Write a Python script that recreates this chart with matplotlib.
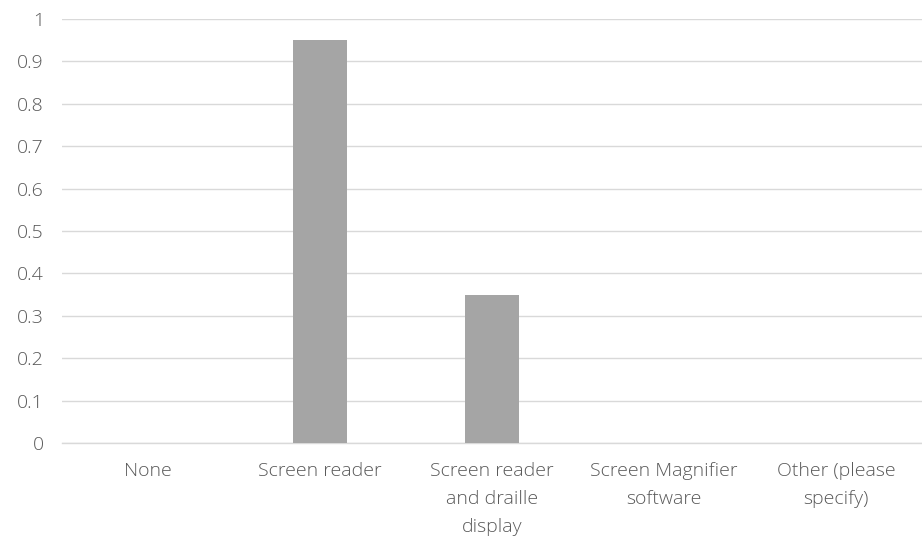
import matplotlib
matplotlib.use("Agg")
import matplotlib.pyplot as plt
import numpy as np

categories = ["None", "Screen reader", "Screen reader\nand draille\ndisplay",
              "Screen Magnifier\nsoftware", "Other (please\nspecify)"]
values = [0, 0.95, 0.35, 0, 0]
yticks = [0, 0.1, 0.2, 0.3, 0.4, 0.5, 0.6, 0.7, 0.8, 0.9, 1]
ytick_labels = ["0", "0.1", "0.2", "0.3", "0.4", "0.5", "0.6", "0.7", "0.8", "0.9", "1"]

plt.rcParams['font.family'] = ['Open Sans', 'DejaVu Sans']
plt.rcParams['font.weight'] = 'light'

fig = plt.figure(figsize=(9.22, 5.44), dpi=100)
ax = fig.add_axes([62/922, 1-443/544, 860/922, (443-19)/544])

x = np.arange(len(categories))
ax.bar(x, values, width=0.315, color="#A5A5A5", zorder=3)

ax.set_xlim(-0.5, len(categories)-0.5)
ax.set_ylim(0, 1)
ax.set_yticks(yticks)
ax.set_yticklabels(ytick_labels, fontweight='light')
ax.set_xticks(x)
ax.set_xticklabels(categories, linespacing=1.7, fontweight='light')

ax.grid(axis="y", color="#D9D9D9", linewidth=1.0, zorder=0)
ax.set_axisbelow(True)
for s in ["top", "right", "left", "bottom"]:
    ax.spines[s].set_visible(False)
ax.axhline(0, color="#D9D9D9", linewidth=1.0, zorder=1, clip_on=False)

ax.tick_params(axis="both", length=0, labelsize=14, colors="#595959")
ax.tick_params(axis="y", pad=13)
ax.tick_params(axis="x", pad=14)

fig.savefig("out.png", dpi=100)
